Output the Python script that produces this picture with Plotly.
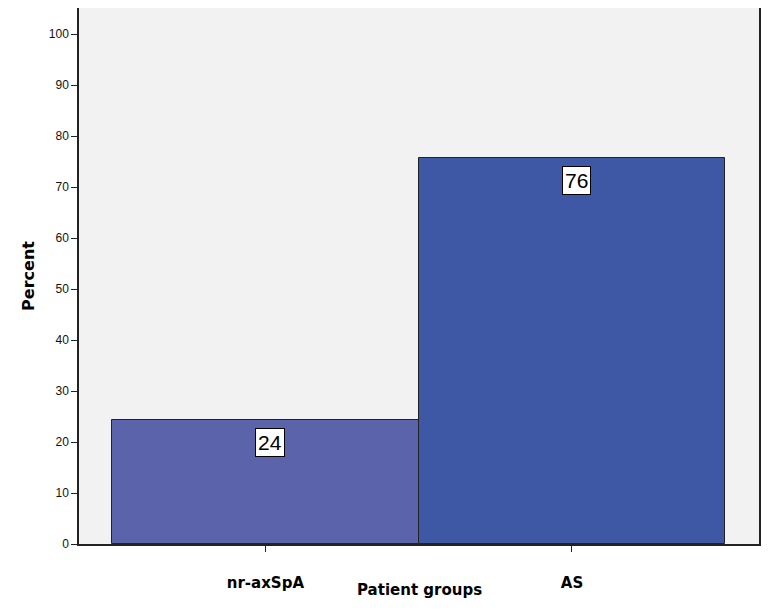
import plotly.graph_objects as go

groups = ["nr-axSpA", "AS"]
percent = [24.3, 75.7]
bar_colors = ["#5B63AB", "#3F58A6"]

fig = go.Figure()
fig.add_trace(go.Bar(x=groups, y=percent, width=1.0,
                     marker=dict(color=bar_colors, line=dict(color="#222222", width=1))))

# value labels in white boxes just below each bar top
for g, p in zip(groups, percent):
    fig.add_annotation(x=g, y=p - 4.4, text=str(round(p)), showarrow=False,
                       xshift=5, bgcolor="white", bordercolor="black", borderwidth=1,
                       borderpad=2, font=dict(family="Arial", size=21, color="black"))

fig.add_annotation(x=0.5, y=-0.086, xref="paper", yref="paper", text="<b>Patient groups</b>",
                   showarrow=False, xanchor="center", yanchor="middle",
                   font=dict(family="DejaVu Sans", size=15, color="black"))

# page body has an 8px margin, so the figure is sized to fit inside the window
fig.update_layout(
    width=761, height=607,
    margin=dict(l=71, r=10, t=0, b=71),
    paper_bgcolor="white", plot_bgcolor="#F2F2F2",
    showlegend=False, bargap=0,
    font=dict(family="Arial", size=12, color="black"),
)
fig.update_xaxes(range=[-0.608, 1.61], automargin=False, showline=True, linecolor="#222222",
                 linewidth=1.5, mirror=True, ticks="outside", ticklen=6, tickcolor="#222222",
                 ticklabelstandoff=18, tickfont=dict(family="DejaVu Sans", size=15),
                 tickvals=groups, ticktext=["<b>%s</b>" % g for g in groups])
fig.update_yaxes(range=[0, 105.1], dtick=10, automargin=False, showgrid=False, zeroline=False,
                 showline=True, linecolor="#222222", linewidth=1.5, mirror=True,
                 ticks="outside", ticklen=6, tickcolor="#222222",
                 tickfont=dict(family="Arial", size=12, color="#111111"),
                 title=dict(text="<b>Percent</b>", font=dict(family="DejaVu Sans", size=16),
                            standoff=10))

fig.write_html("out.html")
